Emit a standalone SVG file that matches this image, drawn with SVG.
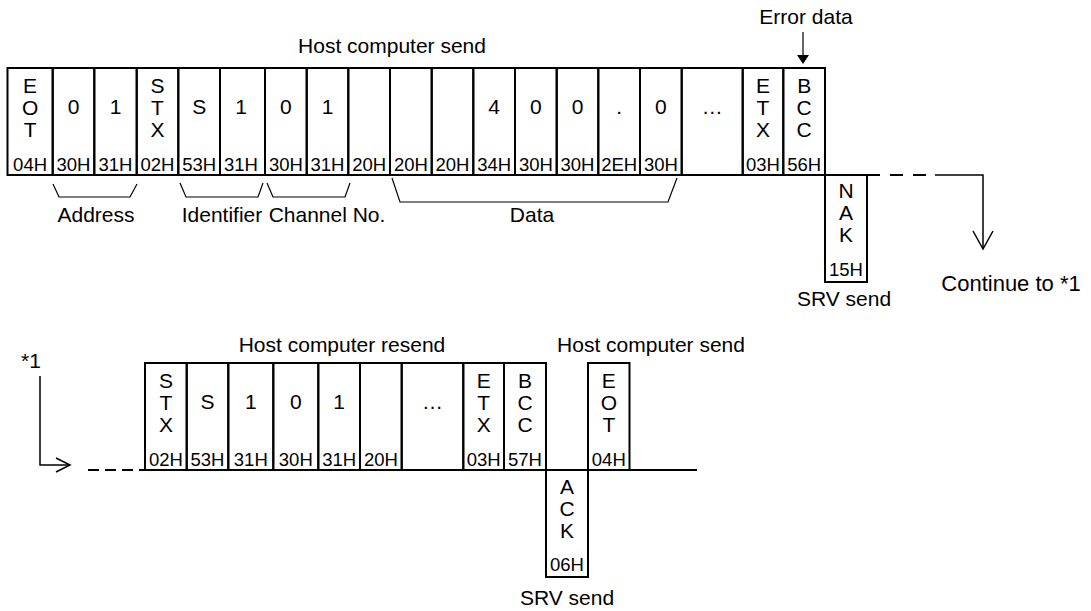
<svg xmlns="http://www.w3.org/2000/svg" width="1091" height="611" viewBox="0 0 1091 611">
<style>
.bx{fill:none;stroke:#000;stroke-width:2}
.ln{fill:none;stroke:#000;stroke-width:1.5}
.th{fill:none;stroke:#000;stroke-width:1.2}
text{font-family:"Liberation Sans",Arial,sans-serif;fill:#000;text-anchor:middle}
.c{font-size:21px}
.h{font-size:18.5px}
.l{font-size:21px}
</style>
<rect width="1091" height="611" fill="#fff"/>
<g id="labels">
<text class="l" x="392" y="53">Host computer send</text>
<text class="l" x="806" y="24">Error data</text>
<text class="l" x="96" y="222">Address</text>
<text class="l" x="222" y="222">Identifier</text>
<text class="l" x="327" y="222">Channel No.</text>
<text class="l" x="532" y="222">Data</text>
<text class="l" x="844" y="306">SRV send</text>
<text class="l" x="1011" y="291" style="font-size:22px">Continue to *1</text>
<text class="l" x="31" y="368">*1</text>
<text class="l" x="342" y="352">Host computer resend</text>
<text class="l" x="651" y="352">Host computer send</text>
<text class="l" x="567" y="605">SRV send</text>
</g>
<g id="frame1">
<g id="t-eot"><rect class="bx" x="7.5" y="68" width="45.2" height="107"/><text class="c"><tspan x="30.1" y="93">E</tspan><tspan x="30.1" y="115">O</tspan><tspan x="30.1" y="137">T</tspan></text><text class="h" x="30.1" y="171">04H</text></g>
<g id="t-a0"><rect class="bx" x="52.7" y="68" width="41.6" height="107"/><text class="c" x="73.5" y="114">0</text><text class="h" x="73.5" y="171">30H</text></g>
<g id="t-a1"><rect class="bx" x="94.3" y="68" width="42.4" height="107"/><text class="c" x="115.5" y="114">1</text><text class="h" x="115.5" y="171">31H</text></g>
<g id="t-stx"><rect class="bx" x="136.7" y="68" width="41.6" height="107"/><text class="c"><tspan x="157.5" y="93">S</tspan><tspan x="157.5" y="115">T</tspan><tspan x="157.5" y="137">X</tspan></text><text class="h" x="157.5" y="171">02H</text></g>
<g id="t-i0"><rect class="bx" x="178.3" y="68" width="41.7" height="107"/><text class="c" x="199.2" y="114">S</text><text class="h" x="199.2" y="171">53H</text></g>
<g id="t-i1"><rect class="bx" x="220" y="68" width="45" height="107"/><text class="c" x="241" y="114">1</text><text class="h" x="241" y="171">31H</text></g>
<g id="t-c0"><rect class="bx" x="265" y="68" width="41.7" height="107"/><text class="c" x="285.9" y="114">0</text><text class="h" x="285.9" y="171">30H</text></g>
<g id="t-c1"><rect class="bx" x="306.7" y="68" width="41.6" height="107"/><text class="c" x="327.5" y="114">1</text><text class="h" x="327.5" y="171">31H</text></g>
<g id="t-sp"><rect class="bx" x="348.3" y="68" width="41.7" height="107"/><text class="h" x="369.2" y="171">20H</text></g>
<g id="t-d1"><rect class="bx" x="390" y="68" width="41.7" height="107"/><text class="h" x="410.9" y="171">20H</text></g>
<g id="t-d2"><rect class="bx" x="431.7" y="68" width="41.6" height="107"/><text class="h" x="452.5" y="171">20H</text></g>
<g id="t-d3"><rect class="bx" x="473.3" y="68" width="41.7" height="107"/><text class="c" x="494.2" y="114">4</text><text class="h" x="494.2" y="171">34H</text></g>
<g id="t-d4"><rect class="bx" x="515" y="68" width="41.7" height="107"/><text class="c" x="535.9" y="114">0</text><text class="h" x="535.9" y="171">30H</text></g>
<g id="t-d5"><rect class="bx" x="556.7" y="68" width="41.6" height="107"/><text class="c" x="577.5" y="114">0</text><text class="h" x="577.5" y="171">30H</text></g>
<g id="t-d6"><rect class="bx" x="598.3" y="68" width="41.7" height="107"/><text class="c" x="619.2" y="114">.</text><text class="h" x="619.2" y="171">2EH</text></g>
<g id="t-d7"><rect class="bx" x="640" y="68" width="41.7" height="107"/><text class="c" x="660.9" y="114">0</text><text class="h" x="660.9" y="171">30H</text></g>
<g id="t-dots"><rect class="bx" x="681.7" y="68" width="61" height="107"/><text class="c" x="712.2" y="114">…</text></g>
<g id="t-etx"><rect class="bx" x="742.7" y="68" width="40.6" height="107"/><text class="c"><tspan x="763" y="93">E</tspan><tspan x="763" y="115">T</tspan><tspan x="763" y="137">X</tspan></text><text class="h" x="763" y="171">03H</text></g>
<g id="t-bcc"><rect class="bx" x="783.3" y="68" width="41.7" height="107"/><text class="c"><tspan x="804.2" y="93">B</tspan><tspan x="804.2" y="115">C</tspan><tspan x="804.2" y="137">C</tspan></text><text class="h" x="804.2" y="171">56H</text></g>
</g>
<g id="nak"><rect class="bx" x="825" y="175" width="42" height="107"/><text class="c"><tspan x="846" y="198">N</tspan><tspan x="846" y="220">A</tspan><tspan x="846" y="242">K</tspan></text><text class="h" x="846" y="276">15H</text></g>
<g id="frame2">
<g id="b-stx"><rect class="bx" x="145" y="363" width="41.7" height="107"/><text class="c"><tspan x="165.9" y="388">S</tspan><tspan x="165.9" y="410">T</tspan><tspan x="165.9" y="432">X</tspan></text><text class="h" x="165.9" y="466">02H</text></g>
<g id="b-i0"><rect class="bx" x="186.7" y="363" width="41.6" height="107"/><text class="c" x="207.5" y="409">S</text><text class="h" x="207.5" y="466">53H</text></g>
<g id="b-i1"><rect class="bx" x="228.3" y="363" width="45" height="107"/><text class="c" x="250.8" y="409">1</text><text class="h" x="250.8" y="466">31H</text></g>
<g id="b-c0"><rect class="bx" x="273.3" y="363" width="45" height="107"/><text class="c" x="295.8" y="409">0</text><text class="h" x="295.8" y="466">30H</text></g>
<g id="b-c1"><rect class="bx" x="318.3" y="363" width="41.7" height="107"/><text class="c" x="339.2" y="409">1</text><text class="h" x="339.2" y="466">31H</text></g>
<g id="b-sp"><rect class="bx" x="360" y="363" width="41.7" height="107"/><text class="h" x="380.9" y="466">20H</text></g>
<g id="b-dots"><rect class="bx" x="401.7" y="363" width="61.6" height="107"/><text class="c" x="432.5" y="409">…</text></g>
<g id="b-etx"><rect class="bx" x="463.3" y="363" width="40.7" height="107"/><text class="c"><tspan x="483.7" y="388">E</tspan><tspan x="483.7" y="410">T</tspan><tspan x="483.7" y="432">X</tspan></text><text class="h" x="483.7" y="466">03H</text></g>
<g id="b-bcc"><rect class="bx" x="504" y="363" width="42" height="107"/><text class="c"><tspan x="525" y="388">B</tspan><tspan x="525" y="410">C</tspan><tspan x="525" y="432">C</tspan></text><text class="h" x="525" y="466">57H</text></g>
</g>
<g id="ack"><rect class="bx" x="546" y="470" width="42" height="107"/><text class="c"><tspan x="567" y="494">A</tspan><tspan x="567" y="516">C</tspan><tspan x="567" y="538">K</tspan></text><text class="h" x="567" y="571">06H</text></g>
<g id="eot2"><rect class="bx" x="588" y="363" width="41.5" height="107"/><text class="c"><tspan x="608.8" y="388">E</tspan><tspan x="608.8" y="410">O</tspan><tspan x="608.8" y="432">T</tspan></text><text class="h" x="608.8" y="466">04H</text></g>
<g id="connectors">
<line class="bx" x1="629.5" y1="470" x2="697" y2="470"/>
<line class="bx" x1="867" y1="175" x2="933" y2="175" stroke-dasharray="13 10"/>
<polyline class="ln" points="935,175 983,175 983,249"/>
<polyline class="ln" points="973,231 983,249 993,231"/>
<line class="bx" x1="88" y1="470" x2="145" y2="470" stroke-dasharray="11 6"/>
<polyline class="ln" points="40,376 40,465 70,465"/>
<polyline class="ln" points="56,458 70,465 56,472"/>
<line class="th" x1="803" y1="32" x2="803" y2="56"/>
<polygon points="797,55 809,55 803,64" fill="#000"/>
<polyline class="th" points="53,184 59,197 130,197 137,184"/>
<polyline class="th" points="180,183 186,197 258,197 263,183"/>
<polyline class="th" points="267,183 273,197 345,197 350,183"/>
<polyline class="th" points="392,178 400,202 668,202 677,178"/>
</g>
</svg>
